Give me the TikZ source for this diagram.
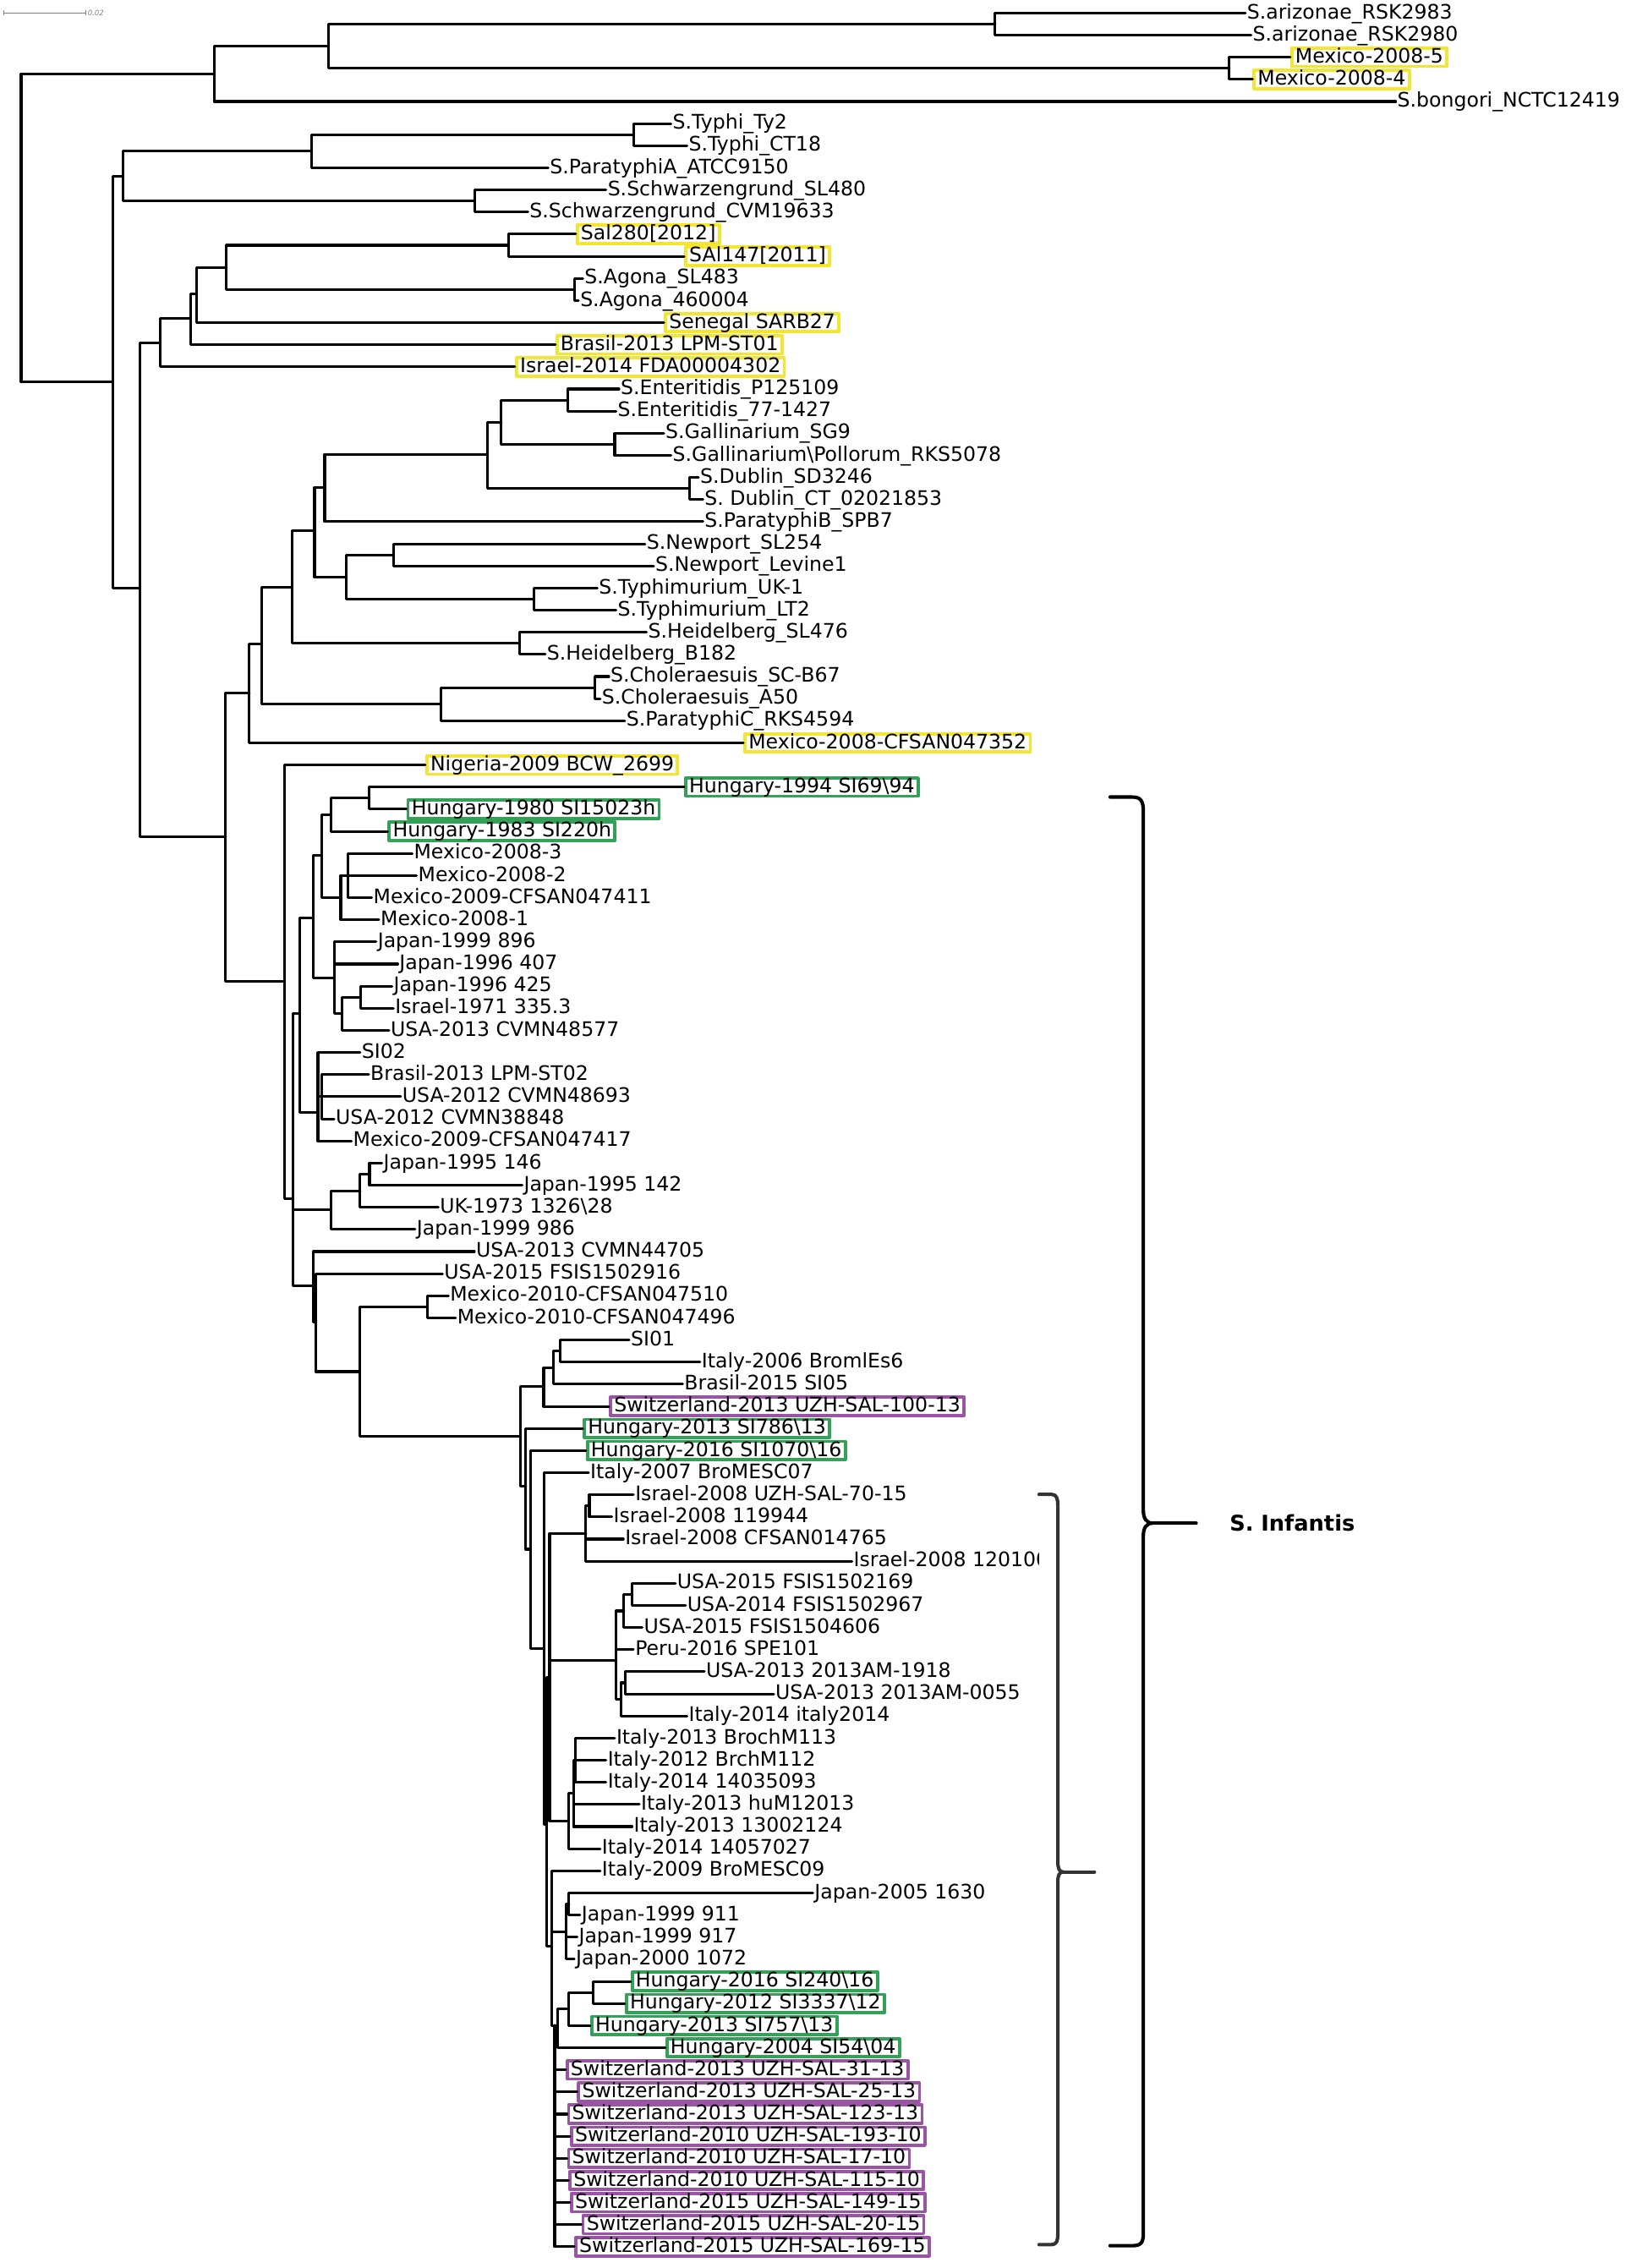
\documentclass[tikz,border=0pt]{standalone}
\usepackage{fontspec}
\setmainfont{DejaVu Sans}
\usetikzlibrary{arrows.meta}

\definecolor{hlyellow}{RGB}{242,230,50}
\definecolor{hlgreen}{RGB}{52,160,88}
\definecolor{hlpurple}{RGB}{153,85,163}

\tikzset{
  branch/.style={line width=1.8pt},
  lf/.style={anchor=west, inner xsep=1pt, inner ysep=0.2pt, text height=10pt, text depth=2.2pt,
    font=\fontsize{13.8}{15}\selectfont},
  yb/.style={lf, inner xsep=2.5pt, draw=hlyellow, line width=2.2pt},
  gb/.style={lf, inner xsep=2.5pt, draw=hlgreen, line width=2.2pt},
  pb/.style={lf, inner xsep=2.5pt, draw=hlpurple, line width=2.2pt},
  brace/.style={line width=2.4pt}
}

\begin{document}
\begin{tikzpicture}[x=1pt,y=-15.29pt,line cap=round,line join=round]
\useasboundingbox (0,0.4114) rectangle (1124,102.96);

% Scale bar
\coordinate (sbl) at (2.3,0.987);
\coordinate (sbr) at (59.5,0.987);
\draw[gray, line width=0.6pt, {Bar[width=3pt]}-{Bar[width=3pt]}] (sbl) -- (sbr);
\node[gray, anchor=west, inner sep=1pt, font=\fontsize{5}{6}\selectfont\itshape] (sbt) at (sbr) {0.02};

% Internal nodes (x, row)
\foreach \nm/\px/\py in {
  irt/14.6/10.72, ia/148.2/3.75, ib/227/2.5, iaz/688/1.5, imx/850/3.5,
  ig/78/17.69, ic/84.8/8.375, id/215.5/7.25, ity/438/6.5, isch/328/9.5,
  ih/96.5/27, ij/110.8/15.9, il/131.8/14.8, im/135.9/13.7, isa/156.6/12.5,
  isal/351.4/11.5, iago/397/13.5,
  ik/156/38.25, ip/172.4/31.75, ir/181/29.53, is/202/26.95, iu/217.5/24.4,
  iv/224.5/22.45, ix/337/20.95, iy/346.6/19.5, ient/392.8/18.5, igal/425/20.5,
  idub/476.5/22.5, iw/239.5/26.5, inew/272/25.5, itym/369.3/27.5, ihei/359/29.5,
  it/305/32.25, icho/411.3/31.5,
  iq/196.6/44.78, iz/202.5/54.6, iam/207/46.25, iah/216.4/41.9, iae/222.5/39.1,
  iad/228.7/37.25, iac/255.3/36.5, iaf/235.6/41, iag/240.8/40, iai/231.1/44.63,
  iak/236.3/46.25, iaj/249.4/45.5, iba/219.8/50.7, ibb/222.5/50,
  ijp/228.8/55.1, ijq/248.9/54.25, ijr/255.5/53.5,
  iab/216.8/58.55, iab2/218.3/60.2, ial/248.5/62.43, imx2/295.3/59.5,
  ian/359.6/65.36, iao/375.9/63.1, iao2/382.5/62.25, isi/387.2/61.5,
  ian2/363.6/67.6, ian3/366.7/70.46, ian4/376/74.95, ian5/377.7/82.9,
  ian6/380/76.25, ian7/381.2/88.4,
  iaq/405.1/69.75, iaq2/407.5/68.5,
  iar/426/75.5, iar1/431.3/73.25, iar2/437/72.5, iar3/429.2/77.25, iar4/432.3/76.5,
  ias/393/82.75, ias2/396.4/81.5, ias3/397.7/80,
  ijc/391.2/87.75, ija/393.4/86.5,
  iaw/383.5/92, ihc/385.5/92.1, ihb/393/91.25, iha/410.2/90.5%
} {
  \coordinate (\nm) at (\px,\py);
}

% Tips: row / branch end / style / label
\foreach \rw/\xe/\sty/\txt in {
  1/861/lf/S.arizonae\_RSK2983,
  2/865/lf/S.arizonae\_RSK2980,
  3/892/yb/Mexico-2008-5,
  4/866/yb/Mexico-2008-4,
  5/965/lf/S.bongori\_NCTC12419,
  6/464/lf/S.Typhi\_Ty2,
  7/475/lf/S.Typhi\_CT18,
  8/379/lf/S.ParatyphiA\_ATCC9150,
  9/419/lf/S.Schwarzengrund\_SL480,
  10/365/lf/S.Schwarzengrund\_CVM19633,
  11/398/yb/Sal280[2012],
  12/473/yb/SAl147[2011],
  13/403/lf/S.Agona\_SL483,
  14/400/lf/S.Agona\_460004,
  15/459/yb/Senegal SARB27,
  16/384/yb/Brasil-2013 LPM-ST01,
  17/356/yb/Israel-2014 FDA00004302,
  18/428/lf/S.Enteritidis\_P125109,
  19/426/lf/S.Enteritidis\_77-1427,
  20/459/lf/S.Gallinarium\_SG9,
  21/464/lf/S.Gallinarium\textbackslash Pollorum\_RKS5078,
  22/483/lf/S.Dublin\_SD3246,
  23/486/lf/S. Dublin\_CT\_02021853,
  24/486/lf/S.ParatyphiB\_SPB7,
  25/446/lf/S.Newport\_SL254,
  26/452/lf/S.Newport\_Levine1,
  27/413/lf/S.Typhimurium\_UK-1,
  28/426/lf/S.Typhimurium\_LT2,
  29/447/lf/S.Heidelberg\_SL476,
  30/377/lf/S.Heidelberg\_B182,
  31/421/lf/S.Choleraesuis\_SC-B67,
  32/415/lf/S.Choleraesuis\_A50,
  33/432/lf/S.ParatyphiC\_RKS4594,
  34/514/yb/Mexico-2008-CFSAN047352,
  35/294/yb/Nigeria-2009 BCW\_2699,
  36/473/gb/Hungary-1994 SI69\textbackslash 94,
  37/281/gb/Hungary-1980 SI15023h,
  38/268/gb/Hungary-1983 SI220h,
  39/285/lf/Mexico-2008-3,
  40/288/lf/Mexico-2008-2,
  41/257/lf/Mexico-2009-CFSAN047411,
  42/262/lf/Mexico-2008-1,
  43/260/lf/Japan-1999 896,
  44/275/lf/Japan-1996 407,
  45/271/lf/Japan-1996 425,
  46/272/lf/Israel-1971 335.3,
  47/269/lf/USA-2013 CVMN48577,
  48/249/lf/SI02,
  49/255/lf/Brasil-2013 LPM-ST02,
  50/277/lf/USA-2012 CVMN48693,
  51/231/lf/USA-2012 CVMN38848,
  52/243/lf/Mexico-2009-CFSAN047417,
  53/264/lf/Japan-1995 146,
  54/361/lf/Japan-1995 142,
  55/303/lf/UK-1973 1326\textbackslash 28,
  56/287/lf/Japan-1999 986,
  57/328/lf/USA-2013 CVMN44705,
  58/306/lf/USA-2015 FSIS1502916,
  59/310/lf/Mexico-2010-CFSAN047510,
  60/315/lf/Mexico-2010-CFSAN047496,
  61/435/lf/SI01,
  62/484/lf/Italy-2006 BromlEs6,
  63/472/lf/Brasil-2015 SI05,
  64/421/pb/Switzerland-2013 UZH-SAL-100-13,
  65/403/gb/Hungary-2013 SI786\textbackslash 13,
  66/405/gb/Hungary-2016 SI1070\textbackslash 16,
  67/407/lf/Italy-2007 BroMESC07,
  68/438/lf/Israel-2008 UZH-SAL-70-15,
  69/423/lf/Israel-2008 119944,
  70/431/lf/Israel-2008 CFSAN014765,
  71/589/lf/Israel-2008 120100,
  72/467/lf/USA-2015 FSIS1502169,
  73/474/lf/USA-2014 FSIS1502967,
  74/444/lf/USA-2015 FSIS1504606,
  75/438/lf/Peru-2016 SPE101,
  76/487/lf/USA-2013 2013AM-1918,
  77/535/lf/USA-2013 2013AM-0055,
  78/475/lf/Italy-2014 italy2014,
  79/425/lf/Italy-2013 BrochM113,
  80/419/lf/Italy-2012 BrchM112,
  81/419/lf/Italy-2014 14035093,
  82/442/lf/Italy-2013 huM12013,
  83/437/lf/Italy-2013 13002124,
  84/415/lf/Italy-2014 14057027,
  85/415/lf/Italy-2009 BroMESC09,
  86/562/lf/Japan-2005 1630,
  87/401/lf/Japan-1999 911,
  88/399/lf/Japan-1999 917,
  89/397/lf/Japan-2000 1072,
  90/436/gb/Hungary-2016 SI240\textbackslash 16,
  91/432/gb/Hungary-2012 SI3337\textbackslash 12,
  92/408/gb/Hungary-2013 SI757\textbackslash 13,
  93/460/gb/Hungary-2004 SI54\textbackslash 04,
  94/391/pb/Switzerland-2013 UZH-SAL-31-13,
  95/399/pb/Switzerland-2013 UZH-SAL-25-13,
  96/392/pb/Switzerland-2013 UZH-SAL-123-13,
  97/394/pb/Switzerland-2010 UZH-SAL-193-10,
  98/392/pb/Switzerland-2010 UZH-SAL-17-10,
  99/393/pb/Switzerland-2010 UZH-SAL-115-10,
  100/394/pb/Switzerland-2015 UZH-SAL-149-15,
  101/402/pb/Switzerland-2015 UZH-SAL-20-15,
  102/397/pb/Switzerland-2015 UZH-SAL-169-15%
} {
  \node[\sty] (t\rw) at (\xe,\rw) {\txt};
}

% Branches (parent |- child)
\foreach \pa/\kid in {
  irt/ia, irt/ig,
  ia/ib, ia/t5, ib/iaz, ib/imx, iaz/t1, iaz/t2, imx/t3, imx/t4,
  ig/ic, ig/ih, ic/id, ic/isch, id/ity, id/t8, ity/t6, ity/t7, isch/t9, isch/t10,
  ih/ij, ih/ik, ij/il, ij/t17, il/im, il/t16, im/isa, im/t15,
  isa/isal, isa/iago, isal/t11, isal/t12, iago/t13, iago/t14,
  ik/ip, ik/iq, ip/ir, ip/t34, ir/is, ir/it, is/iu, is/ihei, iu/iv, iu/iw,
  iv/ix, iv/t24, ix/iy, ix/idub, iy/ient, iy/igal, ient/t18, ient/t19,
  igal/t20, igal/t21, idub/t22, idub/t23, iw/inew, iw/itym, inew/t25, inew/t26,
  itym/t27, itym/t28, ihei/t29, ihei/t30, it/icho, it/t33, icho/t31, icho/t32,
  iq/t35, iq/iz, iz/iam, iz/ijp, iz/iab,
  iam/iah, iam/iba, iah/iae, iah/iai, iae/iad, iae/iaf, iad/iac, iad/t38,
  iac/t36, iac/t37, iaf/iag, iaf/t42, iag/t39, iag/t40, iag/t41,
  iai/t43, iai/t44, iai/iak, iak/iaj, iak/t47, iaj/t45, iaj/t46,
  iba/t48, iba/ibb, iba/t52, ibb/t49, ibb/t50, ibb/t51,
  ijp/ijq, ijp/t56, ijq/ijr, ijq/t55, ijr/t53, ijr/t54,
  iab/t57, iab/iab2, iab2/t58, iab2/ial, ial/imx2, ial/ian, imx2/t59, imx2/t60,
  ian/iao, ian/ian2, iao/iao2, iao/t64, iao2/isi, iao2/t63, isi/t61, isi/t62,
  ian2/t65, ian2/ian3, ian3/t66, ian3/ian4, ian4/t67, ian4/ian5,
  ian5/ian6, ian5/ian7,
  ian6/iaq, ian6/iar, ian6/ias, iaq/iaq2, iaq/t70, iaq/t71, iaq2/t68, iaq2/t69,
  iar/iar1, iar/t75, iar/iar3, iar1/iar2, iar1/t74, iar2/t72, iar2/t73,
  iar3/iar4, iar3/t78, iar4/t76, iar4/t77,
  ias/ias2, ias/t84, ias2/ias3, ias2/t82, ias2/t83, ias3/t79, ias3/t80, ias3/t81,
  ian7/t85, ian7/ijc, ian7/iaw, ijc/ija, ijc/t88, ijc/t89, ija/t86, ija/t87,
  iaw/ihc, iaw/t94, iaw/t95, iaw/t96, iaw/t97, iaw/t98, iaw/t99, iaw/t100,
  iaw/t101, iaw/t102, ihc/ihb, ihc/t93, ihb/iha, ihb/t92, iha/t90, iha/t91%
} {
  \draw[branch] (\pa) |- (\kid);
}

% Bracket background hides the end of one label
\fill[white] (718.3,70.5) rectangle (745,71.5);

% Inner bracket
\coordinate (itip) at (735,85.05);
\coordinate (itipend) at (756.7,85.05);
\draw[brace, black!80] (718.4,67.98) -- (727,67.98) .. controls (730.5,67.98) and (731.4,68.15) .. (731.4,68.5)
  -- (731.4,84.6) .. controls (731.4,84.9) and (732.5,85.05) .. (itip)
  .. controls (732.5,85.05) and (731.4,85.2) .. (731.4,85.5)
  -- (731.4,101.4) .. controls (731.4,101.75) and (730.5,101.9) .. (727,101.9) -- (718.4,101.9);
\draw[brace, black!80] (itip) -- (itipend);

% Outer bracket and clade name
\node[anchor=west, inner sep=0pt, font=\bfseries\fontsize{15}{18}\selectfont] (inf) at (850,69.28) {S. Infantis};
\coordinate (otip) at (797,69.28);
\coordinate (otipend) at (827,69.28);
\draw[brace] (767.5,36.45) -- (783,36.45) .. controls (789,36.45) and (790.5,36.65) .. (790.5,37.1)
  -- (790.5,68.7) .. controls (790.5,69.05) and (792.5,69.28) .. (otip)
  .. controls (792.5,69.28) and (790.5,69.5) .. (790.5,69.85)
  -- (790.5,101.4) .. controls (790.5,101.8) and (789,101.95) .. (783,101.95) -- (767.5,101.95);
\draw[brace] (otip) -- (otipend);

\end{tikzpicture}
\end{document}
